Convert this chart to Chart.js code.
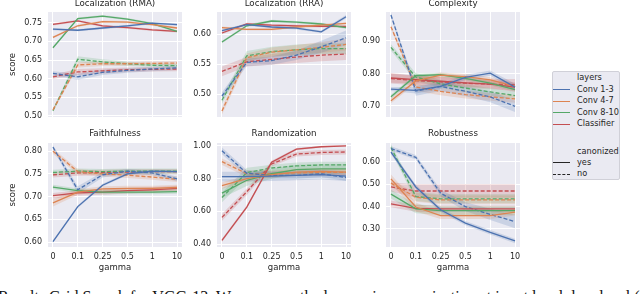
<!DOCTYPE html>
<html><head><meta charset="utf-8">
<script src="https://cdn.jsdelivr.net/npm/chart.js@4.4.0/dist/chart.umd.min.js"></script>
<style>
html,body{margin:0;padding:0;background:#fff;width:640px;height:294px;overflow:hidden;position:relative;font-family:"DejaVu Sans",sans-serif;}
canvas{position:absolute;}
#legend{position:absolute;left:552px;top:71px;width:68px;height:109px;background:#EAEAF2;border:1px solid #d0d0d8;border-radius:2px;box-sizing:border-box;}
.lg{position:absolute;left:577px;font-size:8.2px;color:#262626;line-height:10px;white-space:nowrap;}
.sw{position:absolute;left:553px;width:17px;height:0;}
#caption{position:absolute;left:-2px;top:289px;font-family:"Liberation Serif",serif;font-size:16px;line-height:16px;white-space:nowrap;color:#111;}
</style></head><body>
<canvas id="c0"></canvas><canvas id="c1"></canvas><canvas id="c2"></canvas>
<canvas id="c3"></canvas><canvas id="c4"></canvas><canvas id="c5"></canvas>
<div id="legendBox"></div>
<div id="caption">Results Grid Search for VGG-13. We compare the layer-wise canonization at input level, low level (Conv 1-3), mid level (Conv 4-7)</div>
<script>
// ---------- data ----------
const gammaLabels = ['0','0.1','0.25','0.5','1','10'];
const layerNames = ['Conv 1-3','Conv 4-7','Conv 8-10','Classifier'];
const panelTitles = ['Localization (RMA)','Localization (RRA)','Complexity','Faithfulness','Randomization','Robustness'];

// order of inner arrays: Conv 1-3, Conv 4-7, Conv 8-10, Classifier
const rmaYes = [[.733,.730,.736,.742,.749,.745],[.711,.742,.753,.752,.745,.736],[.683,.761,.768,.760,.748,.727],[.746,.755,.742,.737,.731,.727]];
const rmaNo  = [[.614,.605,.617,.622,.626,.629],[.516,.637,.640,.640,.641,.642],[.514,.652,.645,.640,.636,.635],[.605,.618,.621,.624,.625,.626]];
const rmaYesErr = [[.003,.003,.003,.003,.003,.003],[.003,.003,.003,.003,.003,.003],[.003,.003,.003,.003,.003,.003],[.003,.003,.003,.003,.003,.003]];
const rmaNoErr  = [[.006,.008,.007,.006,.006,.006],[.004,.007,.006,.005,.005,.005],[.004,.008,.007,.006,.005,.005],[.006,.008,.007,.006,.006,.006]];
const rmaTicks = [0.50,0.55,0.60,0.65,0.70,0.75];

const rraYes = [[.606,.616,.612,.610,.604,.629],[.611,.608,.608,.612,.615,.618],[.587,.614,.622,.620,.617,.611],[.602,.617,.615,.614,.613,.613]];
const rraNo  = [[.497,.553,.556,.565,.579,.594],[.472,.561,.570,.574,.578,.583],[.490,.564,.571,.574,.576,.576],[.538,.554,.558,.562,.565,.567]];
const rraYesErr = [[.002,.002,.002,.002,.002,.003],[.002,.002,.002,.002,.002,.002],[.002,.002,.002,.002,.002,.002],[.002,.002,.002,.002,.002,.002]];
const rraNoErr  = [[.006,.006,.007,.008,.010,.012],[.006,.007,.008,.008,.009,.010],[.006,.008,.008,.009,.009,.009],[.008,.008,.009,.010,.010,.010]];
const rraTicks = [0.50,0.55,0.60];

const cxYes = [[.752,.748,.760,.788,.801,.758],[.716,.777,.795,.790,.780,.760],[.728,.793,.796,.785,.770,.750],[.786,.781,.776,.771,.767,.758]];
const cxNo  = [[.980,.746,.760,.745,.728,.699],[.944,.758,.745,.735,.728,.722],[.880,.789,.768,.755,.743,.732],[.784,.778,.774,.770,.767,.765]];
const cxYesErr = [[.006,.010,.008,.008,.008,.010],[.008,.008,.008,.008,.008,.008],[.006,.006,.006,.006,.006,.006],[.015,.012,.012,.012,.012,.015]];
const cxNoErr  = [[.006,.015,.014,.015,.017,.018],[.006,.012,.012,.012,.012,.012],[.010,.012,.012,.012,.012,.012],[.015,.015,.015,.015,.015,.018]];
const cxTicks = [0.70,0.80,0.90];

const faYes = [[.601,.678,.725,.750,.756,.755],[.686,.710,.717,.718,.718,.720],[.721,.713,.710,.710,.710,.711],[.702,.708,.710,.713,.715,.718]];
const faNo  = [[.809,.715,.748,.756,.752,.739],[.800,.755,.750,.747,.743,.738],[.753,.756,.755,.756,.756,.756],[.748,.752,.753,.754,.755,.755]];
const faYesErr = [[.003,.003,.003,.003,.003,.003],[.008,.006,.006,.006,.006,.006],[.005,.005,.005,.005,.005,.005],[.006,.006,.006,.006,.006,.006]];
const faNoErr  = [[.004,.008,.006,.005,.005,.005],[.006,.006,.006,.006,.006,.006],[.006,.006,.006,.006,.006,.006],[.006,.006,.006,.006,.006,.006]];
const faTicks = [0.60,0.65,0.70,0.75,0.80];

const rnYes = [[.812,.812,.815,.820,.825,.815],[.758,.800,.825,.840,.845,.840],[.711,.790,.830,.855,.860,.860],[.422,.626,.900,.980,.995,1.000]];
const rnNo  = [[.970,.833,.820,.820,.830,.807],[.904,.830,.830,.835,.838,.838],[.685,.837,.865,.878,.884,.884],[.563,.720,.890,.950,.960,.963]];
const rnYesErr = [[.030,.030,.030,.030,.030,.030],[.020,.020,.020,.020,.020,.020],[.030,.035,.030,.030,.030,.030],[.010,.010,.010,.008,.005,.004]];
const rnNoErr  = [[.020,.020,.020,.020,.020,.020],[.020,.020,.020,.020,.020,.020],[.030,.030,.020,.020,.020,.020],[.020,.020,.015,.015,.015,.015]];
const rnTicks = [0.40,0.60,0.80,1.00];

const rbYes = [[.644,.488,.386,.326,.285,.246],[.524,.398,.360,.360,.360,.375],[.456,.390,.382,.382,.382,.382],[.412,.392,.390,.390,.390,.390]];
const rbNo  = [[.660,.621,.460,.400,.365,.333],[.505,.442,.430,.430,.430,.430],[.665,.445,.435,.435,.435,.435],[.488,.470,.470,.470,.470,.470]];
const rbYesErr = [[.010,.010,.010,.010,.010,.010],[.020,.020,.015,.015,.015,.015],[.020,.020,.020,.020,.020,.020],[.015,.015,.015,.015,.015,.015]];
const rbNoErr  = [[.010,.010,.015,.020,.025,.030],[.015,.020,.020,.020,.020,.020],[.015,.020,.020,.020,.020,.020],[.020,.030,.030,.030,.030,.030]];
const rbTicks = [0.30,0.40,0.50,0.60];

// y ranges (min, max)
const yRanges = [[0.497,0.779],[0.462,0.637],[0.666,0.989],[0.589,0.818],[0.382,1.018],[0.219,0.685]];

// ---------- styling / layout ----------
const colors = ['#4C72B0','#DD8452','#55A868','#C44E52'];
const bandColors = ['rgba(76,114,176,0.2)','rgba(221,132,82,0.2)','rgba(85,168,104,0.2)','rgba(196,78,82,0.2)'];
const colPlotLeft = [48,217,386];
const colAxisW = [48,34,34];
const plotW = 134;
const rowGeom = [
  {canvasTop:-1, plotTop:12, plotBottom:117, canvasBottom:119},
  {canvasTop:129, plotTop:143, plotBottom:247, canvasBottom:275}
];
const panelSets = [
  [rmaYes,rmaNo,rmaYesErr,rmaNoErr,rmaTicks],
  [rraYes,rraNo,rraYesErr,rraNoErr,rraTicks],
  [cxYes,cxNo,cxYesErr,cxNoErr,cxTicks],
  [faYes,faNo,faYesErr,faNoErr,faTicks],
  [rnYes,rnNo,rnYesErr,rnNoErr,rnTicks],
  [rbYes,rbNo,rbYesErr,rbNoErr,rbTicks]
];

const bgPlugin = {
  id:'bgArea',
  beforeDraw(chart){
    const {ctx, chartArea:a} = chart;
    ctx.save(); ctx.fillStyle='#EAEAF2';
    ctx.fillRect(a.left,a.top,a.right-a.left,a.bottom-a.top);
    ctx.restore();
  }
};

const TXT = '#262626';
const titleFontSize = 8.7;

panelSets.forEach((set,p)=>{
  const [yesV,noV,yesE,noE,ticks] = set;
  const col = p%3, row = Math.floor(p/3);
  const g = rowGeom[row];
  const cv = document.getElementById('c'+p);
  const left = colPlotLeft[col]-colAxisW[col];
  const w = colAxisW[col]+plotW;
  const h = g.canvasBottom-g.canvasTop;
  cv.style.left = left+'px'; cv.style.top = g.canvasTop+'px';
  cv.width = w; cv.height = h; cv.style.width=w+'px'; cv.style.height=h+'px';

  const lines = [], bands = [];
  [[yesV,yesE,[]],[noV,noE,[4,2]]].forEach(([vals,errs,dash])=>{
    vals.forEach((arr,k)=>{
      lines.push({data:arr.map((v,i)=>({x:i,y:v})),borderColor:colors[k],borderWidth:1.3,borderDash:dash,
        pointRadius:0,fill:false,tension:0,order:0});
      bands.push({data:arr.map((v,i)=>({x:i,y:v+errs[k][i]})),borderWidth:0,pointRadius:0,
        backgroundColor:bandColors[k],fill:'+1',tension:0,order:1});
      bands.push({data:arr.map((v,i)=>({x:i,y:v-errs[k][i]})),borderWidth:0,pointRadius:0,fill:false,tension:0,order:1});
    });
  });

  const showX = row===1;
  new Chart(cv,{
    type:'line',
    data:{datasets:[...lines,...bands]},
    plugins:[bgPlugin],
    options:{
      responsive:false, animation:false, devicePixelRatio:1,
      layout:{padding:0},
      plugins:{
        legend:{display:false}, tooltip:{enabled:false},
        title:{display:true,fullSize:false,text:panelTitles[p],color:TXT,
          font:{family:'DejaVu Sans',size:titleFontSize,weight:'normal',lineHeight:1.2},
          padding:{top:0,bottom:g.plotTop-g.canvasTop-titleFontSize*1.2}}
      },
      scales:{
        x:{type:'linear',min:-0.2,max:5.2,
          grid:{color:'#ffffff',lineWidth:1,drawTicks:false},
          border:{display:false},
          ticks:{display:showX,autoSkip:false,padding:5,color:TXT,font:{family:'DejaVu Sans',size:8},
            callback:(v)=>gammaLabels[v]},
          title:{display:showX,text:'gamma',color:TXT,font:{family:'DejaVu Sans',size:8.5},padding:{top:0,bottom:2}},
          afterBuildTicks:(s)=>{s.ticks=gammaLabels.map((_,i)=>({value:i}));},
          afterFit:(s)=>{s.height=g.canvasBottom-g.plotBottom;s.paddingLeft=0;s.paddingRight=0;s.paddingTop=0;s.paddingBottom=0;}
        },
        y:{type:'linear',min:yRanges[p][0],max:yRanges[p][1],
          grid:{color:'#ffffff',lineWidth:1,drawTicks:false},
          border:{display:false},
          ticks:{autoSkip:false,padding:6,color:TXT,font:{family:'DejaVu Sans',size:8},callback:(v)=>v.toFixed(2)},
          title:{display:col===0,text:'score',color:TXT,font:{family:'DejaVu Sans',size:8.5,lineHeight:1.2},padding:{top:8,bottom:0}},
          afterBuildTicks:(s)=>{s.ticks=ticks.map(v=>({value:v}));},
          afterFit:(s)=>{s.width=colAxisW[col];s.paddingLeft=0;s.paddingRight=0;s.paddingTop=0;s.paddingBottom=0;}
        }
      }
    }
  });
});

// ---------- legend (HTML) ----------
const lb = document.getElementById('legendBox');
let html = '<div id="legend"></div>';
html += '<div class="lg" style="top:72px">layers</div>';
const layerRowY = [89,100.6,112.2,123.8];
layerNames.forEach((n,k)=>{
  html += `<div class="sw" style="top:${layerRowY[k]}px;border-top:1.5px solid ${colors[k]}"></div>`;
  html += `<div class="lg" style="top:${layerRowY[k]-5.5}px">${n}</div>`;
});
html += '<div class="lg" style="top:145.5px">canonized</div>';
html += '<div class="sw" style="top:162px;border-top:1.5px solid #262626"></div>';
html += '<div class="lg" style="top:156.5px">yes</div>';
html += '<div class="sw" style="top:173.5px;border-top:1.5px dashed #262626"></div>';
html += '<div class="lg" style="top:168px">no</div>';
lb.innerHTML = html;
</script>
</body></html>
